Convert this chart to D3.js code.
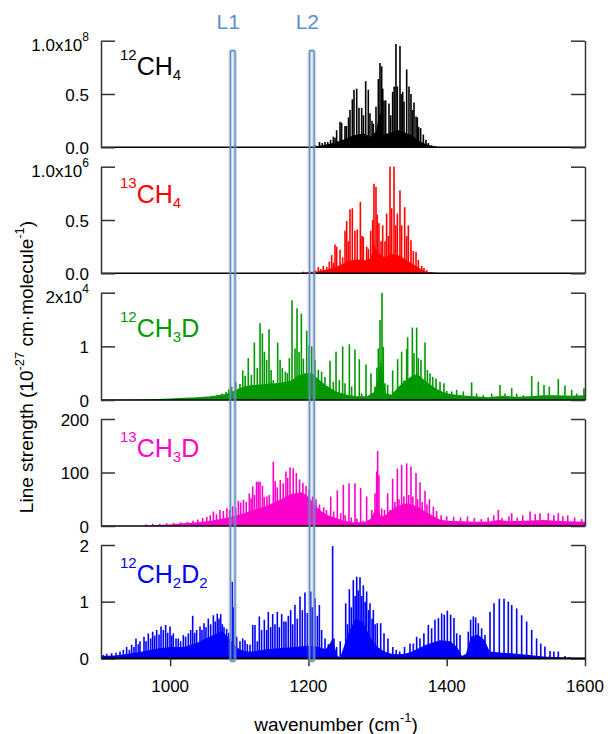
<!DOCTYPE html>
<html><head><meta charset="utf-8">
<script src="https://cdn.jsdelivr.net/npm/d3@7"></script>
<style>
html,body{margin:0;padding:0;background:#fff;}
svg{display:block;font-family:"Liberation Sans",Arial,sans-serif;}
</style></head>
<body>
<svg id="chart" width="608" height="734"></svg>
<script>
// ---------------- DATA ----------------
const xDomain = [900, 1600];
const xTicks = [1000, 1200, 1400, 1600];
const xTickLabels = ["1000", "1200", "1400", "1600"];
const xTitle = "wavenumber (cm^-1)";
const yTitle = "Line strength (10^-27 cm·molecule^-1)";

const species = ["^12CH_4", "^13CH_4", "^12CH_3D", "^13CH_3D", "^12CH_2D_2"];
const yMax = [1, 1, 2, 200, 2];
const yTicks = [[0, 0.5, 1], [0, 0.5, 1], [0, 1, 2], [0, 100, 200], [0, 1, 2]];
const yTickLabels = [
  ["0.0", "0.5", "1.0x10^8"],
  ["0.0", "0.5", "1.0x10^6"],
  ["0", "1", "2x10^4"],
  ["0", "100", "200"],
  ["0", "1", "2"]
];

const laserNames = ["L1", "L2"];
const laserWn = [1090.5, 1204.9];

// 12CH4 (units of 1e8)
const ch4_12_lines = [[1209.5,0.02],[1216,0.05],[1220,0.04],[1224,0.05],[1228,0.05],[1232,0.07],[1236,0.10],[1238.5,0.09],[1240.8,0.16],[1245.7,0.24],[1248,0.23],[1252.9,0.20],[1255,0.2],[1258,0.28],[1260.1,0.35],[1263.5,0.45],[1265.9,0.54],[1269.8,0.55],[1273.1,0.37],[1277,0.37],[1279.5,0.3],[1282.8,0.62],[1286.6,0.54],[1289,0.32],[1292,0.25],[1293.9,0.22],[1297.7,0.38],[1301.1,0.64],[1303.5,0.79],[1305.9,0.76],[1307.5,0.55],[1309.3,0.44],[1311.7,0.44],[1316.5,0.41],[1319,0.3],[1321.8,0.52],[1324,0.57],[1326.6,0.97],[1328.6,0.57],[1332.4,0.95],[1334,0.5],[1336.3,0.52],[1338.2,0.43],[1342.1,0.73],[1345.4,0.57],[1348.3,0.50],[1350.5,0.35],[1352.7,0.42],[1355.6,0.29],[1357.5,0.28],[1359.4,0.19],[1362.3,0.18],[1366.2,0.12],[1370,0.07],[1373.4,0.04],[1378.2,0.02],[1383,0.01]];
const ch4_12_cont = [[1205,0],[1215,0.015],[1230,0.03],[1240,0.05],[1250,0.07],[1260,0.1],[1270,0.12],[1280,0.13],[1290,0.1],[1298,0.15],[1302,0.3],[1305,0.32],[1308,0.12],[1320,0.14],[1330,0.16],[1340,0.14],[1350,0.11],[1360,0.06],[1370,0.03],[1380,0.01],[1390,0.003],[1575,0.003],[1580,0]];

// 13CH4 (units of 1e6)
const ch4_13_lines = [[1192.6,0.015],[1202.3,0.02],[1209.5,0.03],[1214.3,0.06],[1217.7,0.04],[1221.5,0.07],[1226.4,0.06],[1230.2,0.11],[1233.6,0.17],[1236,0.1],[1238.4,0.27],[1240.8,0.25],[1245.7,0.22],[1249.5,0.15],[1252.9,0.40],[1255.3,0.49],[1257.7,0.3],[1260.1,0.60],[1263.5,0.61],[1267.3,0.40],[1270.7,0.41],[1275.1,0.67],[1277.5,0.35],[1279.4,0.34],[1284.2,0.25],[1286.6,0.23],[1290,0.40],[1292.9,0.5],[1294.8,0.84],[1297.7,0.81],[1299.6,0.55],[1302,0.47],[1305,0.3],[1307.4,0.45],[1310.7,0.3],[1313.1,0.56],[1315.6,0.35],[1318,1.0],[1320.4,0.61],[1323.8,1.0],[1326.2,0.45],[1328.6,0.56],[1332.4,0.78],[1334.8,0.45],[1339.2,0.62],[1342.1,0.35],[1344.5,0.45],[1348.3,0.31],[1351.7,0.21],[1355.6,0.2],[1359,0.125],[1363.8,0.07],[1367.1,0.05],[1371,0.03],[1378.2,0.01]];
const ch4_13_cont = [[1185,0],[1200,0.01],[1215,0.02],[1230,0.04],[1240,0.06],[1250,0.09],[1260,0.12],[1270,0.13],[1280,0.12],[1290,0.14],[1295,0.28],[1299,0.2],[1310,0.15],[1320,0.18],[1330,0.17],[1340,0.13],[1350,0.09],[1360,0.05],[1370,0.015],[1385,0.005],[1400,0]];

// 12CH3D (units of 1e4)
const ch3d_12_lines = [[1040,0.05],[1050,0.06],[1060,0.08],[1068,0.1],[1075,0.12],[1081,0.15],[1085,0.2],[1089,0.25],[1095,0.33],[1101,0.3],[1105,0.55],[1108.5,0.45],[1113,0.78],[1117.5,0.47],[1121.8,1.07],[1126,0.6],[1130,1.43],[1133.4,1.24],[1136.3,0.9],[1139.6,0.75],[1143,1.32],[1146,0.56],[1149.2,0.37],[1155.5,1.07],[1159,0.75],[1162.3,0.6],[1166.6,0.53],[1169.5,0.5],[1172.4,0.78],[1176.3,1.86],[1180.6,0.96],[1183.5,1.71],[1186.5,0.9],[1189.8,1.61],[1192.7,0.77],[1197.5,1.29],[1200.9,1.02],[1204.7,1.0],[1209.5,0.75],[1214.3,0.56],[1219,0.53],[1223.9,0.43],[1231.2,0.73],[1236,0.34],[1239.9,0.9],[1244.7,0.37],[1249.5,1.0],[1252.9,0.31],[1259.2,1.04],[1262.5,0.25],[1267.3,0.94],[1273.6,0.76],[1277,0.12],[1283.3,0.66],[1290.5,0.5],[1296.3,0.25],[1299,0.6],[1301.1,0.96],[1303.5,1.49],[1306.4,2.0],[1308.3,0.99],[1310.7,0.31],[1314.6,0.28],[1321.8,0.55],[1329,0.76],[1334.8,0.9],[1338.2,0.37],[1342.1,0.95],[1343.5,1.17],[1348.3,0.37],[1350.3,1.35],[1352.7,0.87],[1356.5,1.35],[1358.9,0.78],[1362.8,0.75],[1368.6,1.07],[1372,0.56],[1375.8,0.5],[1379.7,0.43],[1384.5,0.4],[1390.3,0.34],[1396,0.31],[1400,0.17],[1407.2,0.16],[1414.4,0.19],[1424,0.16],[1436,0.33],[1443.3,0.12],[1453,0.09],[1465,0.12],[1477,0.28],[1484.3,0.12],[1494,0.22],[1501.2,0.12],[1510.8,0.09],[1522.9,0.45],[1532.5,0.34],[1540.7,0.28],[1548.4,0.25],[1561.4,0.39],[1571,0.27],[1580.7,0.19],[1588,0.12],[1598.5,0.22]];
const ch3d_12_cont = [[900,0.005],[950,0.01],[980,0.02],[1000,0.03],[1020,0.04],[1040,0.05],[1060,0.07],[1080,0.11],[1090,0.16],[1100,0.22],[1110,0.26],[1120,0.28],[1140,0.3],[1160,0.32],[1175,0.36],[1185,0.45],[1195,0.5],[1205,0.5],[1215,0.38],[1225,0.28],[1240,0.16],[1255,0.1],[1270,0.07],[1285,0.07],[1295,0.15],[1301,0.4],[1305,0.75],[1308,0.4],[1312,0.12],[1320,0.1],[1330,0.24],[1340,0.36],[1350,0.45],[1358,0.48],[1365,0.4],[1375,0.3],[1385,0.21],[1395,0.15],[1405,0.11],[1420,0.09],[1440,0.07],[1460,0.05],[1480,0.08],[1500,0.06],[1520,0.07],[1540,0.09],[1560,0.09],[1580,0.08],[1600,0.09]];

// 13CH3D
const ch3d_13_lines = [[965,3],[975,4],[985,4],[995,5],[1005,6],[1015,7],[1025,8],[1033,10],[1040,12],[1047,15],[1053,17],[1058,20],[1062.5,27],[1067,22],[1072,30],[1077,28],[1082,33],[1086,30],[1090.4,37],[1095,34],[1098.7,47],[1102,44],[1106,49],[1110,45],[1114.5,61],[1117,52],[1119.4,74],[1122,58],[1125,83],[1127.5,82],[1130,83],[1133.5,75],[1136,54],[1140,55],[1143.3,58],[1149.2,120],[1152,84],[1155,72],[1159.3,86],[1163.6,80],[1167.5,102],[1170,90],[1173.4,110],[1178,108],[1182.5,99],[1187.2,87],[1192,81],[1196.5,75],[1201,69],[1206,55],[1211,50],[1216,40],[1222,35],[1226,30],[1232.2,55],[1236.5,27],[1241.8,67],[1246.6,24],[1250.5,77],[1253,20],[1258.7,80],[1262,16],[1267.3,80],[1270,14],[1275.5,71],[1279,10],[1284.2,55],[1291.5,30],[1296.3,61],[1298.7,102],[1300.1,140],[1302,95],[1305.9,33],[1310,30],[1314.6,61],[1318,30],[1321.8,88],[1325,45],[1328.6,107],[1331,50],[1334.8,114],[1338,55],[1342.1,117],[1345,58],[1348.3,111],[1351,55],[1355.6,99],[1358,50],[1361.4,82],[1364.5,45],[1368.6,66],[1371.5,40],[1374.9,50],[1380.6,36],[1385.4,28],[1392,20],[1400,18],[1410,17],[1420,16],[1430,18],[1440,15],[1450,13],[1460,16],[1468,20],[1474.6,30],[1480,15],[1490,18],[1494,24],[1502,16],[1510,20],[1520.6,27],[1528,22],[1535,24],[1547,24],[1555,20],[1561.4,24],[1568,18],[1575,20],[1585,16],[1595,13]];
const ch3d_13_cont = [[960,0],[980,2],[1000,3],[1020,5],[1040,7],[1060,10],[1080,15],[1100,21],[1120,30],[1140,38],[1160,50],[1175,60],[1190,63],[1200,55],[1210,38],[1220,26],[1230,19],[1240,15],[1250,10],[1265,7],[1280,7],[1290,13],[1296,30],[1300,34],[1305,17],[1312,21],[1320,30],[1330,38],[1340,42],[1350,40],[1360,34],[1370,26],[1380,19],[1390,12],[1400,10],[1420,9],[1440,8],[1460,8],[1475,11],[1490,9],[1510,10],[1540,11],[1570,9],[1600,8]];

// 12CH2D2
const ch2d2_12_lines = [[903.4,0.06],[908.2,0.08],[915.4,0.09],[921.7,0.1],[927.5,0.12],[932.3,0.15],[937.1,0.2],[941,0.15],[944.3,0.24],[947.7,0.2],[950.6,0.35],[954,0.25],[956.4,0.3],[962.2,0.38],[965.1,0.3],[968.4,0.44],[971.8,0.35],[974.7,0.47],[977.6,0.4],[980.5,0.5],[983.9,0.42],[986.8,0.56],[990.1,0.5],[993.5,0.59],[996.4,0.45],[999.8,0.56],[1002.2,0.4],[1004.6,0.44],[1008.5,0.35],[1011.8,0.35],[1015.2,0.3],[1019.1,0.41],[1022.4,0.38],[1026.3,0.44],[1029.7,0.5],[1032.6,0.75],[1035.4,0.45],[1038.3,0.5],[1043.2,0.56],[1046,0.5],[1049,0.62],[1051.8,0.55],[1055.2,0.7],[1058.6,0.6],[1062.5,0.76],[1065.3,0.65],[1068.2,0.79],[1070.6,0.7],[1073.1,0.78],[1075.5,0.6],[1077.9,0.55],[1081.7,0.52],[1084.6,0.45],[1089.9,1.35],[1091.4,0.9],[1096.2,0.38],[1101,0.3],[1104.9,0.35],[1108.3,0.32],[1111.6,0.25],[1115.5,0.24],[1119.4,0.59],[1122.7,0.59],[1126.1,0.3],[1129,0.74],[1132.3,0.5],[1136.2,0.68],[1139.6,0.5],[1142,0.82],[1145.4,0.55],[1148.3,0.78],[1151.6,0.6],[1155,0.82],[1157.9,0.55],[1161.3,0.78],[1164.6,0.65],[1167.5,0.65],[1170.9,0.75],[1174.3,0.85],[1177.2,0.6],[1180.5,0.94],[1183.9,0.7],[1187.8,1.09],[1191.2,0.85],[1195,1.16],[1198.4,0.8],[1203.3,1.18],[1205.7,0.9],[1209.5,1.06],[1212.9,0.75],[1215.8,0.94],[1219.1,0.5],[1224,0.35],[1228.8,0.25],[1235,1.98],[1237,0.35],[1240.8,0.2],[1246,0.3],[1253.9,0.97],[1256.5,0.6],[1259.2,1.22],[1262,0.9],[1264.9,1.38],[1267.5,1.1],[1269.8,1.44],[1272,1.2],[1274.6,1.43],[1277,1.1],[1279.4,1.29],[1282,1.0],[1284.2,1.18],[1287,0.85],[1289,0.97],[1292,0.7],[1293.9,0.85],[1296.5,0.6],[1299.6,0.62],[1304.5,0.62],[1309.3,0.44],[1315,0.35],[1322,0.2],[1327,0.15],[1332,0.12],[1339,0.2],[1346.9,0.26],[1351.7,0.26],[1356.5,0.38],[1361.3,0.35],[1367,0.44],[1373.4,0.59],[1378.2,0.53],[1383,0.68],[1388,0.71],[1392.7,0.79],[1396.5,0.77],[1400.9,0.84],[1405.7,0.77],[1410.5,0.71],[1414.4,0.44],[1419.2,0.41],[1431.2,0.47],[1434.6,0.68],[1438.5,0.74],[1441.9,0.72],[1445.7,0.62],[1450.5,0.53],[1455.4,0.41],[1462.6,0.82],[1468.4,0.97],[1476.1,1.05],[1482.9,1.05],[1489.1,1.0],[1494,0.94],[1501.2,0.88],[1508.4,0.76],[1515.6,0.65],[1522.9,0.5],[1530,0.35],[1536,0.26],[1542,0.21],[1549.4,0.13],[1555,0.12],[1561.4,0.12],[1571,0.04],[1578,0.02]];
const ch2d2_12_cont = [[900,0.04],[920,0.05],[940,0.08],[960,0.12],[980,0.17],[1000,0.2],[1020,0.2],[1040,0.28],[1060,0.4],[1075,0.48],[1085,0.36],[1090,0.28],[1100,0.16],[1110,0.12],[1120,0.12],[1140,0.16],[1160,0.18],[1180,0.2],[1200,0.22],[1215,0.2],[1225,0.16],[1230,0.24],[1235,0.35],[1238,0.2],[1242,0.04],[1246,0.02],[1250,0.16],[1258,0.45],[1268,0.7],[1278,0.65],[1290,0.36],[1300,0.2],[1310,0.12],[1320,0.08],[1330,0.07],[1340,0.08],[1350,0.12],[1370,0.24],[1390,0.32],[1405,0.3],[1415,0.2],[1422,0.04],[1428,0.08],[1435,0.38],[1445,0.42],[1455,0.32],[1462,0.12],[1480,0.1],[1500,0.08],[1520,0.06],[1540,0.03],[1560,0.02],[1580,0.01],[1600,0.01]];

const seriesLines = [ch4_12_lines, ch4_13_lines, ch3d_12_lines, ch3d_13_lines, ch2d2_12_lines];
const seriesCont = [ch4_12_cont, ch4_13_cont, ch3d_12_cont, ch3d_13_cont, ch2d2_12_cont];

// ---------------- STYLE / LAYOUT ----------------
const colors = ["#000000", "#ff0000", "#009900", "#ff00cc", "#0000ff"];
const panelTop = [40.7, 166.7, 292.7, 419, 545];
const panelBottom = [147.3, 273.3, 400, 526, 658.3];
const labelBaseline = [75, 203, 337, 457, 583];
const X0 = 101, X1 = 585;
const axisColor = "#333";
const laserColor = "#5b8fd2";

const svg = d3.select("#chart");
const x = d3.scaleLinear().domain(xDomain).range([X0, X1]);

function tokens(str) {
  const out = [];
  let i = 0, buf = "";
  while (i < str.length) {
    const c = str[i];
    if (c === "^" || c === "_") {
      if (buf) { out.push({t: buf, k: "n"}); buf = ""; }
      let j = i + 1, s = "";
      while (j < str.length && /[0-9\-]/.test(str[j])) { s += str[j]; j++; }
      out.push({t: s, k: c === "^" ? "sup" : "sub"});
      i = j;
    } else { buf += c; i++; }
  }
  if (buf) out.push({t: buf, k: "n"});
  return out;
}
function rich(textSel, str, base, small, supDy, subDy) {
  let cur = 0;
  tokens(str).forEach(tk => {
    const target = tk.k === "sup" ? supDy : tk.k === "sub" ? subDy : 0;
    textSel.append("tspan")
      .attr("dy", target - cur)
      .attr("font-size", tk.k === "n" ? base : small)
      .text(tk.t);
    cur = target;
  });
}

species.forEach((name, i) => {
  const y = d3.scaleLinear().domain([0, yMax[i]]).range([panelBottom[i], panelTop[i]]);
  const g = svg.append("g");
  const col = colors[i];
  g.append("path").datum(seriesCont[i])
    .attr("d", d3.area().x(d => x(d[0])).y0(y(0)).y1(d => y(d[1])))
    .attr("fill", col);
  g.selectAll("line.stick").data(seriesLines[i]).join("line")
    .attr("class", "stick")
    .attr("x1", d => x(d[0])).attr("x2", d => x(d[0]))
    .attr("y1", y(0)).attr("y2", d => y(d[1]))
    .attr("stroke", col).attr("stroke-width", 1.6);

  // baseline
  svg.append("line").attr("x1", X0).attr("x2", X1).attr("y1", y(0)).attr("y2", y(0))
    .attr("stroke", "#000").attr("stroke-width", 1.5);

  const la = svg.append("g").attr("transform", `translate(${X0},0)`)
    .call(d3.axisLeft(y).tickValues(yTicks[i]).tickSize(-14).tickSizeOuter(0).tickFormat(""));
  const ra = svg.append("g").attr("transform", `translate(${X1},0)`)
    .call(d3.axisRight(y).tickValues(yTicks[i]).tickSize(-14).tickSizeOuter(0).tickFormat(""));
  [la, ra].forEach(a => {
    a.select(".domain").attr("stroke", axisColor).attr("stroke-width", 1.5);
    a.selectAll(".tick line").attr("stroke", axisColor).attr("stroke-width", 1.5);
  });

  yTicks[i].forEach((v, k) => {
    const lab = yTickLabels[i][k];
    const hasExp = lab.includes("^");
    const t = svg.append("text")
      .attr("x", 89).attr("y", y(v) + (hasExp ? 10.5 : 6.5))
      .attr("text-anchor", "end").attr("fill", "#000");
    rich(t, lab, "17px", "12px", -10, 0);
  });

  const lt = svg.append("text").attr("x", 120).attr("y", labelBaseline[i]).attr("fill", col);
  rich(lt, name, "25px", "15px", -15.5, 5);
});

// bottom x axis
const xa = svg.append("g").attr("transform", `translate(0,${panelBottom[4]})`)
  .call(d3.axisBottom(x).tickValues(xTicks).tickSize(8).tickSizeOuter(0).tickFormat(""));
xa.select(".domain").attr("stroke", "#000").attr("stroke-width", 1.5);
xa.selectAll(".tick line").attr("stroke", axisColor).attr("stroke-width", 1.5);
xTicks.forEach((v, k) => {
  svg.append("text").attr("x", x(v)).attr("y", 691.5).attr("text-anchor", "middle")
    .attr("font-size", "17px").attr("fill", "#000").text(xTickLabels[k]);
});

// axis titles
const xt = svg.append("text").attr("x", 336).attr("y", 731).attr("text-anchor", "middle").attr("fill", "#000");
rich(xt, xTitle, "19px", "13px", -9, 0);
const yt = svg.append("text").attr("transform", "translate(33,367) rotate(-90)")
  .attr("text-anchor", "middle").attr("fill", "#000");
rich(yt, yTitle, "19px", "13px", -9, 0);

// laser windows
laserNames.forEach((nm, k) => {
  const cx = x(laserWn[k]);
  const w = 4.6, top = 50.7, bot = 661;
  svg.append("rect").attr("x", cx - w / 2).attr("y", top).attr("width", w).attr("height", bot - top)
    .attr("rx", 1.5).attr("fill", "none").attr("stroke", "rgba(140,150,165,0.35)").attr("stroke-width", 4);
  svg.append("rect").attr("x", cx - w / 2).attr("y", top).attr("width", w).attr("height", bot - top)
    .attr("rx", 1.5).attr("fill", "none").attr("stroke", laserColor).attr("stroke-width", 1.4);
  svg.append("text").attr("x", cx - 4.5).attr("y", 29).attr("text-anchor", "middle")
    .attr("font-size", "21px").attr("fill", laserColor).text(nm);
});
</script>
</body></html>
